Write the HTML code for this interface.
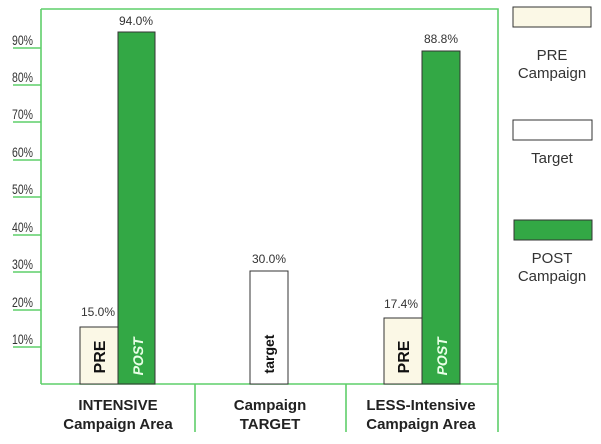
<!DOCTYPE html>
<html><head><style>body{margin:0;background:#fff}svg{display:block}</style></head><body>
<svg width="601" height="444" viewBox="0 0 601 444" font-family="Liberation Sans, sans-serif">
<rect width="601" height="444" fill="#fff"/>
<g stroke="#5fcf6a" stroke-width="1.6" fill="none">
<polyline points="41,9 498,9 498,432"/>
<line x1="41" y1="9" x2="41" y2="384"/>
<line x1="41" y1="384" x2="498" y2="384"/>
<line x1="195" y1="384" x2="195" y2="432"/>
<line x1="346" y1="384" x2="346" y2="432"/>
<line x1="13" y1="48" x2="41" y2="48"/><line x1="13" y1="85" x2="41" y2="85"/>
<line x1="13" y1="122" x2="41" y2="122"/><line x1="13" y1="160" x2="41" y2="160"/>
<line x1="13" y1="197" x2="41" y2="197"/><line x1="13" y1="235" x2="41" y2="235"/>
<line x1="13" y1="272" x2="41" y2="272"/><line x1="13" y1="310" x2="41" y2="310"/>
<line x1="13" y1="347" x2="41" y2="347"/>
</g>
<g font-size="14" fill="#333" transform="scale(0.75,1)">
<text x="16" y="45">90%</text><text x="16" y="82">80%</text><text x="16" y="119">70%</text>
<text x="16" y="157">60%</text><text x="16" y="194">50%</text><text x="16" y="232">40%</text>
<text x="16" y="269">30%</text><text x="16" y="307">20%</text><text x="16" y="344">10%</text>
</g>
<g stroke="#333" stroke-width="1">
<rect x="80" y="327" width="38" height="57" fill="#fbf8e6"/>
<rect x="118" y="32" width="37" height="352" fill="#33a845"/>
<rect x="250" y="271" width="38" height="113" fill="#fff"/>
<rect x="384" y="318" width="38" height="66" fill="#fbf8e6"/>
<rect x="422" y="51" width="38" height="333" fill="#33a845"/>
<rect x="513" y="7" width="78" height="20" fill="#fbf8e6"/>
<rect x="513" y="120" width="79" height="20" fill="#fff"/>
<rect x="514" y="220" width="78" height="20" fill="#33a845"/>
</g>
<g font-size="12" fill="#333" text-anchor="middle">
<text x="98" y="316">15.0%</text><text x="136" y="25">94.0%</text>
<text x="269" y="263">30.0%</text><text x="401" y="308">17.4%</text><text x="441" y="43">88.8%</text>
</g>
<g font-size="16" font-weight="bold" text-anchor="middle">
<text transform="translate(105,357) rotate(-90)" fill="#111">PRE</text>
<text transform="translate(143,357) rotate(-90) skewX(-10)" fill="#e8ffe6" font-size="14">POST</text>
<text transform="translate(274,354) rotate(-90)" fill="#111" font-size="14">target</text>
<text transform="translate(409,357) rotate(-90)" fill="#111">PRE</text>
<text transform="translate(447,357) rotate(-90) skewX(-10)" fill="#e8ffe6" font-size="14">POST</text>
</g>
<g font-size="15" font-weight="bold" fill="#222" text-anchor="middle">
<text x="118" y="410">INTENSIVE</text><text x="118" y="429">Campaign Area</text>
<text x="270" y="410">Campaign</text><text x="270" y="429">TARGET</text>
<text x="421" y="410">LESS-Intensive</text><text x="421" y="429">Campaign Area</text>
</g>
<g font-size="15" fill="#333" text-anchor="middle">
<text x="552" y="60">PRE</text><text x="552" y="78">Campaign</text>
<text x="552" y="163">Target</text>
<text x="552" y="263">POST</text><text x="552" y="281">Campaign</text>
</g>
</svg>
</body></html>
